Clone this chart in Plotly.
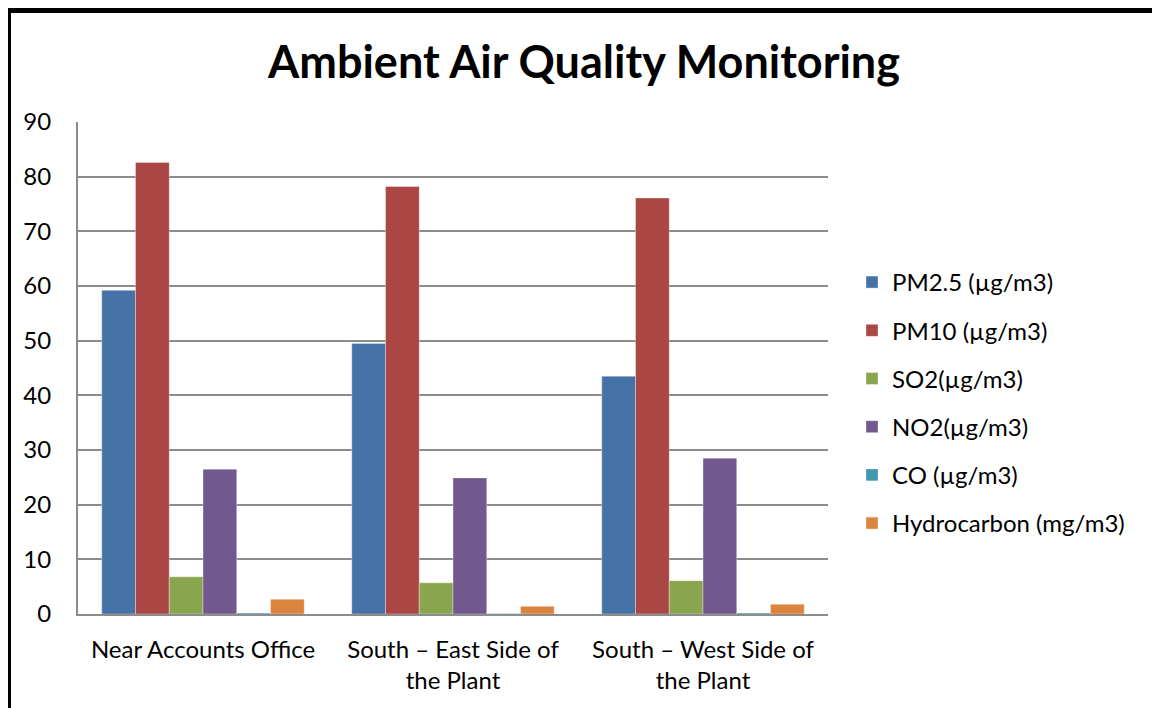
import plotly.graph_objects as go

categories = ["Near Accounts Office", "South – East Side of<br>the Plant", "South – West Side of<br>the Plant"]
series_names = ["PM2.5 (µg/m3)", "PM10 (µg/m3)", "SO2(µg/m3)", "NO2(µg/m3)", "CO (µg/m3)", "Hydrocarbon (mg/m3)"]
pm25 = [59.2, 49.5, 43.5]
pm10 = [82.6, 78.2, 76.1]
so2 = [6.8, 5.7, 6.1]
no2 = [26.5, 24.9, 28.5]
co = [0.2, 0.1, 0.2]
hydrocarbon = [2.7, 1.4, 1.8]
colors = ["#4572A7", "#AA4643", "#89A54E", "#71588F", "#4198AF", "#DB843D"]

FONT = "Lato"
OFF = 8  # page body margin
W, H = 1160 - OFF, 708 - OFF
# plot area in page pixel coordinates
PL, PR, PT, PB = 78, 828, 122, 614
L, T = PL - OFF, PT - OFF
R, B = W - (PR - OFF), H - (PB - OFF)
pw, ph = W - L - R, H - T - B

def px(x):
    return (x - OFF - L) / pw

def py(y):
    return (H - B - (y - OFF)) / ph

fig = go.Figure()
for i, (name, vals) in enumerate(zip(series_names, [pm25, pm10, so2, no2, co, hydrocarbon])):
    fig.add_trace(go.Bar(
        x=categories, y=vals, name=name, legendgroup=f"g{i}",
        marker=dict(color=colors[i], line=dict(color="rgba(255,255,255,0.35)", width=1)),
    ))

fig.update_layout(
    width=W, height=H,
    margin=dict(l=L, r=R, t=T, b=B, autoexpand=False),
    paper_bgcolor="white", plot_bgcolor="white",
    barmode="group", bargap=0.19, bargroupgap=0,
    font=dict(family=FONT, color="black", size=24),
    title=dict(text="<b>Ambient Air Quality Monitoring</b>", x=0.5, xanchor="center",
               y=1 - (62 - OFF) / H, yanchor="middle", font=dict(family=FONT, size=45, color="black")),
    legend=dict(x=px(852), y=py(260), xanchor="left", yanchor="top",
                font=dict(family=FONT, size=24, color="black"),
                tracegroupgap=14, itemwidth=30, bgcolor="rgba(0,0,0,0)"),
    xaxis=dict(showline=True, linecolor="#8c8c8c", linewidth=2, ticks="",
               tickfont=dict(family=FONT, size=24), showgrid=False, ticklabelstandoff=13),
    yaxis=dict(range=[0, 90], dtick=10, showgrid=True, gridcolor="#8c8c8c", gridwidth=2,
               showline=True, linecolor="#8c8c8c", linewidth=2, ticks="", zeroline=False,
               tickfont=dict(family=FONT, size=24), ticklabelstandoff=20),
    shapes=[dict(type="rect", xref="paper", yref="paper",
                 x0=px(8.5), x1=px(1158.5), y0=py(740), y1=py(10.5),
                 line=dict(color="black", width=5), fillcolor="rgba(0,0,0,0)", layer="above")],
)

fig.write_html("out.html")
